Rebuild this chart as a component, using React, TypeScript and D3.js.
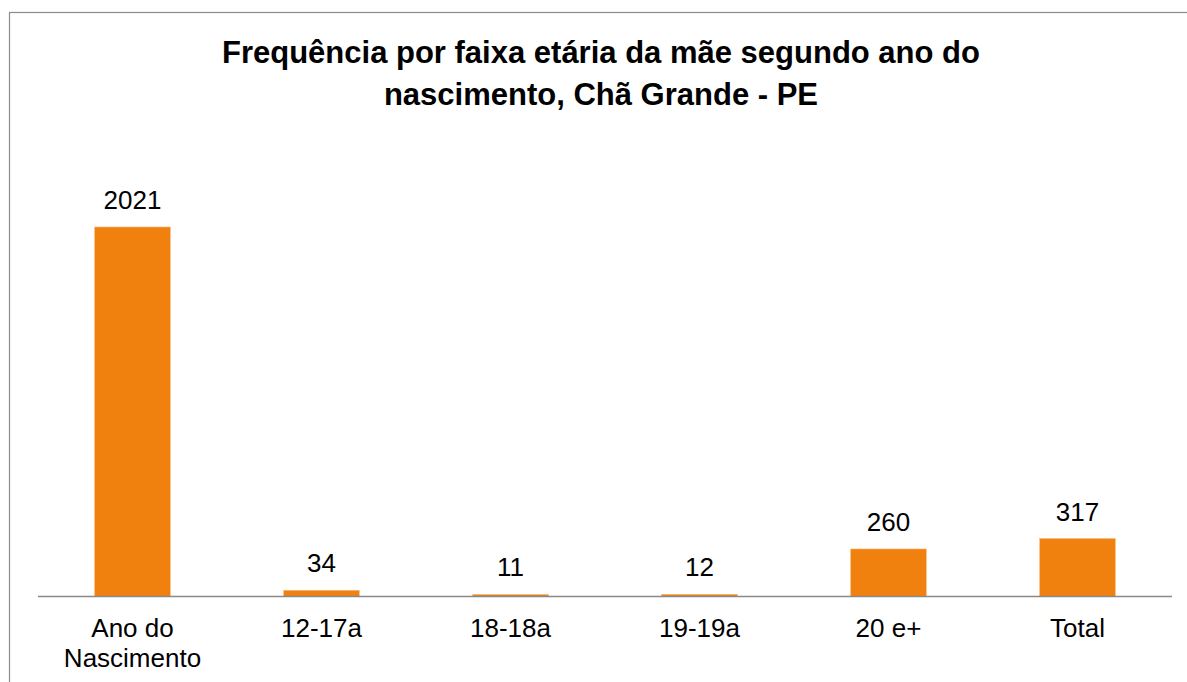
import * as d3 from "d3";
import React from "react";

const categories = ["Ano do\nNascimento", "12-17a", "18-18a", "19-19a", "20 e+", "Total"];
const values = [2021, 34, 11, 12, 260, 317];
const titleLines = [
  "Frequência por faixa etária da mãe segundo ano do",
  "nascimento, Chã Grande - PE",
];

const W = 1187;
const H = 682;
const FONT = "'Liberation Sans', Arial, sans-serif";

export default function App() {
  const baseY = 596.5;
  const x = d3
    .scaleBand<string>()
    .domain(categories)
    .range([38, 1172])
    .paddingInner(0.6)
    .paddingOuter(0.3);
  const y = d3.scaleLinear().domain([0, 2021]).range([baseY, 227]);

  return (
    <svg
      width={W}
      height={H}
      style={{ position: "absolute", left: 0, top: 0 }}
      fontFamily={FONT}
    >
      <rect x={0} y={0} width={W} height={H} fill="#fff" />
      <rect x={9.5} y={12.5} width={1250} height={750} fill="none" stroke="#8c8c8c" strokeWidth={1.2} />

      <g fontWeight="bold" fontSize={31} textAnchor="middle" fill="#000">
        {titleLines.map((t, i) => (
          <text key={i} x={601} y={63 + i * 42}>
            {t}
          </text>
        ))}
      </g>

      {/* barras */}
      {categories.map((c, i) => {
        const v = values[i];
        const top = y(v);
        return (
          <g key={c}>
            <rect
              x={x(c)!}
              y={top}
              width={x.bandwidth()}
              height={baseY - top}
              fill="#f0810f"
              stroke="#f7b77a"
              strokeWidth={0.6}
            />
            <text
              x={x(c)! + x.bandwidth() / 2}
              y={top - 18}
              textAnchor="middle"
              fontSize={26}
              fill="#000"
            >
              {v}
            </text>
          </g>
        );
      })}

      <line x1={38} x2={1172} y1={baseY} y2={baseY} stroke="#898989" strokeWidth={1.5} />

      {categories.map((c) => (
        <text
          key={c}
          x={x(c)! + x.bandwidth() / 2}
          y={637}
          textAnchor="middle"
          fontSize={26}
          fill="#000"
        >
          {c.split("\n").map((line, j) => (
            <tspan key={j} x={x(c)! + x.bandwidth() / 2} dy={j === 0 ? 0 : 30}>
              {line}
            </tspan>
          ))}
        </text>
      ))}
    </svg>
  );
}
